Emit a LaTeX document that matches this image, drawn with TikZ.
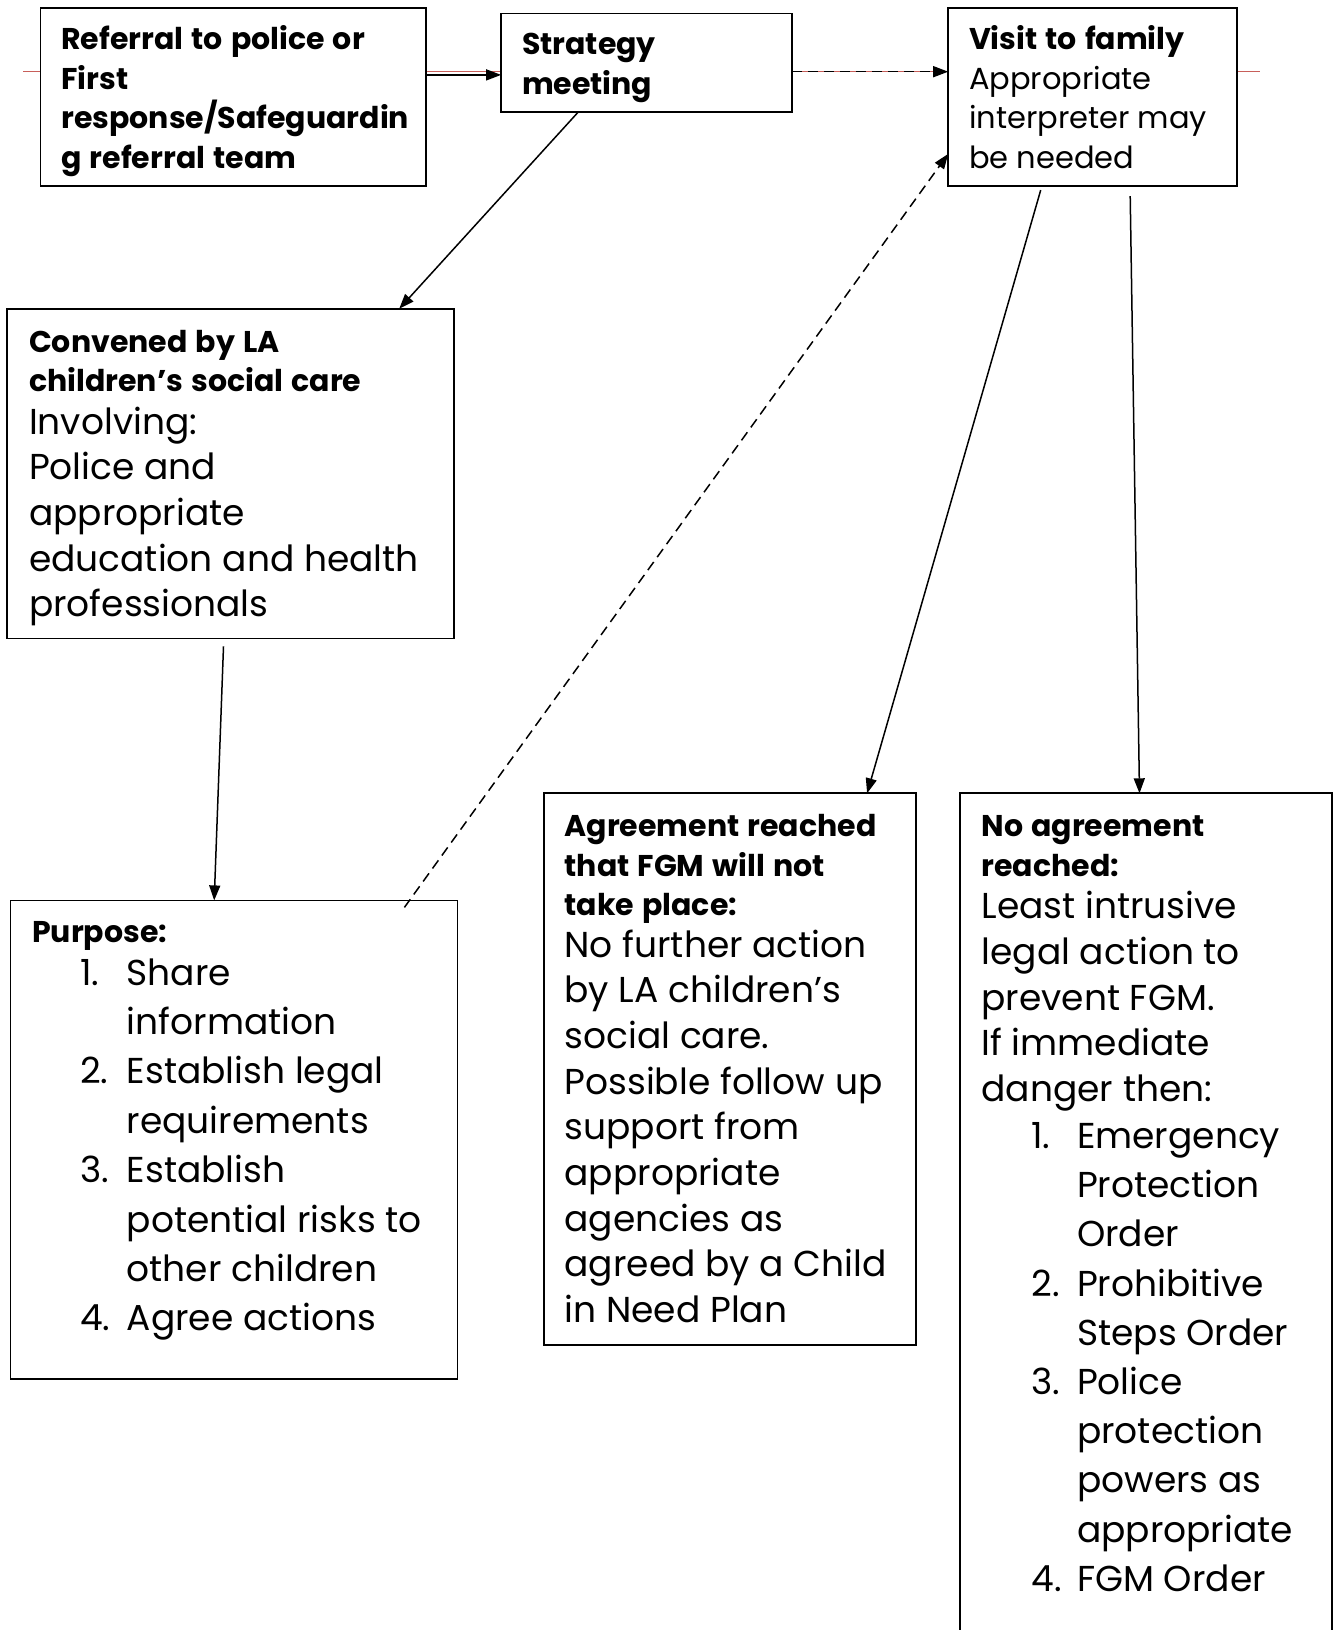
\documentclass[tikz,border=0pt]{standalone}
\usepackage{fontspec}
\setmainfont{Poppins}
\usetikzlibrary{arrows.meta,calc}
\definecolor{redline}{RGB}{200,95,90}
\newcommand{\wsp}{\spaceskip=0.27em plus 0.05em minus 0.02em\relax}
\newcommand{\hdf}{\fontsize{30}{39.5}\bfseries\selectfont\wsp}
\newcommand{\smf}{\fontsize{30.5}{39.5}\selectfont\wsp}
\newcommand{\bdf}{\fontsize{36}{45.7}\selectfont\wsp}
\newcommand{\lsf}{\fontsize{36}{49.4}\selectfont\wsp}
\newcommand{\itmA}[1]{\makebox[46.8pt][l]{#1}}
\newcommand{\itmB}[1]{\makebox[45.7pt][l]{#1}}
\begin{document}
\begin{tikzpicture}[x=1pt,y=-1pt,
  box/.style={draw, line width=1.8pt, fill=white, inner sep=0pt, outer sep=0pt, anchor=north west},
  txt/.style={inner sep=0pt, outer sep=0pt, anchor=base west, align=left, text width=420pt},
  arr/.style={line width=1.5pt, -{Triangle[length=15pt,width=11pt]}},
  dsh/.style={arr, dash pattern=on 10pt off 6pt}]
\useasboundingbox[fill=white] (0,0) rectangle (1336,1630);
% red rule behind the top row
\coordinate (rA) at (23,71.7);
\coordinate (rB) at (1260,71.7);
\draw[redline, line width=1.3pt] (rA) -- (rB);
% boxes
\node[box, minimum width=385.8pt, minimum height=177.8pt] (b1) at (40.5,8.3) {};
\node[box, minimum width=291.2pt, minimum height=98.8pt] (b2) at (501.1,13.5) {};
\node[box, minimum width=289pt, minimum height=177.8pt] (b3) at (948.2,8.3) {};
\node[box, minimum width=447pt, minimum height=329.6pt] (b4) at (7.3,308.8) {};
\node[box, minimum width=447.1pt, minimum height=478.2pt] (b5) at (10.4,900.4) {};
\node[box, minimum width=372.2pt, minimum height=552pt] (b6) at (543.8,793.3) {};
\node[inner sep=0pt, outer sep=0pt, anchor=north west, minimum width=372.2pt, minimum height=860pt] (b7) at (959.6,793.3) {};
\draw[line width=1.8pt] (b7.south west) -- (b7.north west) -- (b7.north east) -- (b7.south east);
% texts
\node[txt] (t1) at (61.3,49.5) {\hdf Referral to police or\\First\\response/Safeguardin\\g referral team\par};
\node[txt] (t2) at (522,54.7) {\hdf Strategy\\meeting\par};
\node[txt] (t3a) at (969,49.5) {\hdf Visit to family\par};
\node[txt] (t3b) at (969,89) {\smf Appropriate\\interpreter may\\be needed\par};
\node[txt] (t4a) at (29.1,352) {\hdf Convened by LA\\children’s social care\par};
\node[txt] (t4b) at (29.1,434) {\bdf Involving:\\Police and\\appropriate\\education and health\\professionals\par};
\node[txt] (t5a) at (32.2,942.6) {\hdf Purpose:\par};
\node[txt] (t5b) at (80,985) {\lsf \itmA{1.}Share\\\itmA{}information\\\itmA{2.}Establish legal\\\itmA{}requirements\\\itmA{3.}Establish\\\itmA{}potential risks to\\\itmA{}other children\\\itmA{4.}Agree actions\par};
\node[txt] (t6a) at (564.6,836.6) {\hdf Agreement reached\\that FGM will not\\take place:\par};
\node[txt] (t6b) at (564.6,957) {\bdf No further action\\by LA children’s\\social care.\\Possible follow up\\support from\\appropriate\\agencies as\\agreed by a Child\\in Need Plan\par};
\node[txt] (t7a) at (981.5,836.6) {\hdf No agreement\\reached:\par};
\node[txt] (t7b) at (981.5,918.7) {\bdf Least intrusive\\legal action to\\prevent FGM.\\If immediate\\danger then:\par};
\node[txt] (t7c) at (1031.4,1148.4) {\fontsize{36}{49.2}\selectfont\wsp \itmB{1.}Emergency\\\itmB{}Protection\\\itmB{}Order\\\itmB{2.}Prohibitive\\\itmB{}Steps Order\\\itmB{3.}Police\\\itmB{}protection\\\itmB{}powers as\\\itmB{}appropriate\\\itmB{4.}FGM Order\par};
% connectors
\draw[arr] (b1.east |- 0,74.9) -- (b2.west |- 0,74.9);
\draw[dsh] (b2.east |- 0,71.7) -- (b3.west |- 0,71.7);
\draw[arr] (b2.south -| 578,0) -- (b4.north -| 399.2,0);
\draw[arr] ($(b4.south -| 223.5,0)+(0,8)$) -- (b5.north -| 214.2,0);
\draw[dsh] ($(b5.north -| 404.4,0)+(0,7)$) -- (b3.west |- 0,153.9);
\draw[arr] ($(b3.south -| 1040.7,0)+(0,4)$) -- (b6.north -| 867.1,0);
\draw[arr] ($(b3.south -| 1130.2,0)+(0,10)$) -- (b7.north -| 1139.5,0);
\end{tikzpicture}
\end{document}
